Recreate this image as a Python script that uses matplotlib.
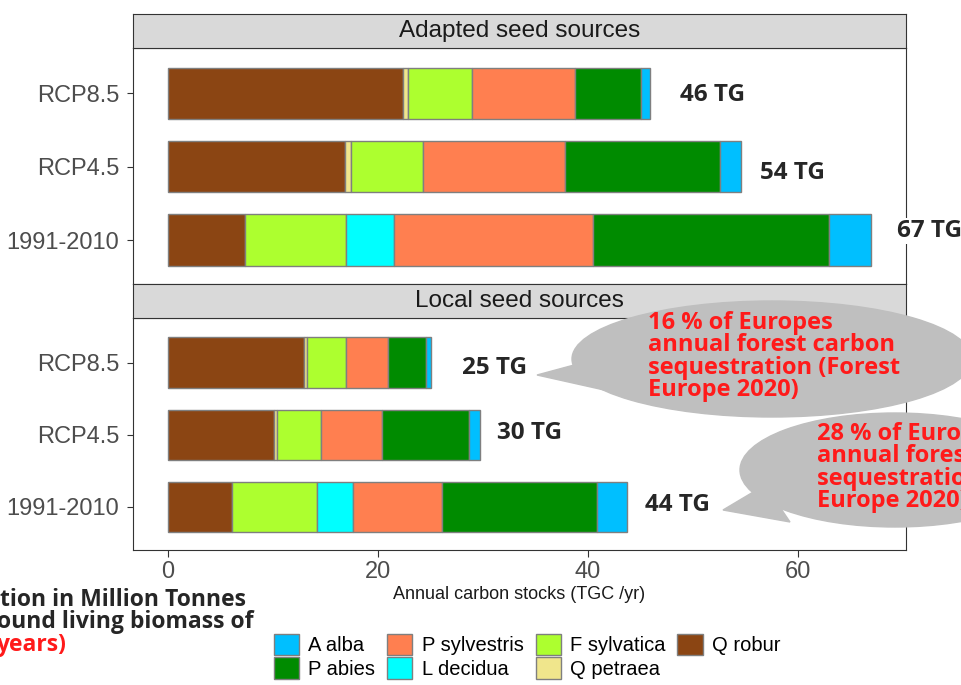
import numpy as np
import matplotlib.pyplot as plt
from matplotlib.patches import Patch, Ellipse, Polygon

# scenarios from bottom to top
scenarios = ["1991-2010", "RCP4.5", "RCP8.5"]
species = ["Q robur", "Q petraea", "F sylvatica", "L decidua", "P sylvestris", "P abies", "A alba"]
colors = ["#8B4513", "#F0E68C", "#ADFF2F", "#00FFFF", "#FF7F50", "#008B00", "#00BFFF"]

# annual carbon stocks (TGC/yr), one list per species, order = scenarios
adapted_q_robur = [7.3, 16.9, 22.4]
adapted_q_petraea = [0.0, 0.5, 0.5]
adapted_f_sylvatica = [9.7, 6.9, 6.1]
adapted_l_decidua = [4.5, 0.0, 0.0]
adapted_p_sylvestris = [19.0, 13.5, 9.8]
adapted_p_abies = [22.5, 14.8, 6.3]
adapted_a_alba = [4.0, 2.0, 0.8]

local_q_robur = [6.1, 10.1, 13.0]
local_q_petraea = [0.0, 0.25, 0.2]
local_f_sylvatica = [8.1, 4.25, 3.8]
local_l_decidua = [3.4, 0.0, 0.0]
local_p_sylvestris = [8.5, 5.8, 4.0]
local_p_abies = [14.8, 8.3, 3.6]
local_a_alba = [2.8, 1.0, 0.5]

adapted_labels = ["67 TG", "54 TG", "46 TG"]
local_labels = ["44 TG", "30 TG", "25 TG"]

legend_order = ["A alba", "P abies", "P sylvestris", "L decidua", "F sylvatica", "Q petraea", "Q robur"]

W, H = 962, 685
fig = plt.figure(figsize=(W / 100, H / 100), dpi=100)


def px_rect(l, t, r, b):
    return [l / W, 1 - b / H, (r - l) / W, (b - t) / H]


def draw_panel(ax, data):
    y = np.arange(len(scenarios)) + 1
    left = np.zeros(len(scenarios))
    for vals, c in zip(data, colors):
        vals = np.array(vals)
        m = vals > 0
        ax.barh(y[m], vals[m], left=left[m], height=0.7, color=c,
                edgecolor="#7f7f7f", linewidth=1)
        left += vals
    ax.set_xlim(-3.33, 70.3)
    ax.set_ylim(0.4, 3.62)
    ax.set_yticks(y)
    ax.set_yticklabels(scenarios, fontsize=17, color="#4d4d4d", family="Liberation Sans")
    ax.tick_params(axis="y", length=4, color="#333333", width=0.8, pad=6)
    for s in ax.spines.values():
        s.set_color("#333333")
        s.set_linewidth(0.8)
    return left


def draw_strip(ax, text):
    ax.set_facecolor("#d9d9d9")
    ax.set_xticks([])
    ax.set_yticks([])
    for s in ax.spines.values():
        s.set_color("#333333")
        s.set_linewidth(0.8)
    ax.text(0.5, 0.5, text, ha="center", va="center", fontsize=17.5,
            color="#1a1a1a", family="Liberation Sans", transform=ax.transAxes)


ax_top = fig.add_axes(px_rect(133, 48, 906, 284))
ax_bot = fig.add_axes(px_rect(133, 318, 906, 550))
draw_strip(fig.add_axes(px_rect(133, 14, 906, 48)), "Adapted seed sources")
draw_strip(fig.add_axes(px_rect(133, 284, 906, 318)), "Local seed sources")

draw_panel(ax_top, [adapted_q_robur, adapted_q_petraea, adapted_f_sylvatica, adapted_l_decidua,
                    adapted_p_sylvestris, adapted_p_abies, adapted_a_alba])
draw_panel(ax_bot, [local_q_robur, local_q_petraea, local_f_sylvatica, local_l_decidua,
                    local_p_sylvestris, local_p_abies, local_a_alba])

ax_top.set_xticks([])
ax_bot.set_xticks([0, 20, 40, 60])
ax_bot.tick_params(axis="x", labelsize=17, labelcolor="#4d4d4d", length=5,
                   color="#333333", width=0.8, pad=3)
for t in ax_bot.get_xticklabels():
    t.set_family("Liberation Sans")
ax_bot.set_xlabel("Annual carbon stocks (TGC /yr)", fontsize=13, color="#1a1a1a",
                  family="Liberation Sans", labelpad=2)

# legend
handles = [Patch(facecolor=colors[species.index(n)], edgecolor="#7f7f7f") for n in legend_order]
leg = fig.legend(handles, legend_order, ncol=4, loc="upper left",
                 bbox_to_anchor=(274 / W, 1 - 634 / H), frameon=False,
                 prop={"family": "Liberation Sans", "size": 14.5},
                 handlelength=1.25, handleheight=1.25, handletextpad=0.45,
                 columnspacing=0.6, labelspacing=0.1, borderpad=0, borderaxespad=0)

# overlay in pixel coordinates for callouts and notes
ov = fig.add_axes([0, 0, 1, 1], zorder=10)
ov.set_xlim(0, W)
ov.set_ylim(H, 0)
ov.axis("off")
ov.patch.set_alpha(0)

bold = dict(family="Open Sans", weight="bold")
tg_pos = [(897, 231), (760, 173), (680, 95), (645, 505), (497, 433), (462, 368)]
for txt, (x, y) in zip(adapted_labels + local_labels, tg_pos):
    ov.text(x, y, txt, ha="left", va="center", fontsize=17.5, color="#262626",
            bbox=dict(facecolor="white", edgecolor="none", pad=1), **bold)

bub = "#bfbfbf"
ov.add_patch(Ellipse((772, 359), 400, 116, color=bub, zorder=1))
ov.add_patch(Polygon([(537, 375), (600, 358), (640, 398)], color=bub, zorder=1))
ov.add_patch(Ellipse((895, 470), 310, 114, color=bub, zorder=1))
ov.add_patch(Polygon([(723, 510), (765, 485), (790, 522)], color=bub, zorder=1))

# va="baseline" on multi-line text anchors the last line
ov.text(648, 396, "16 % of Europes\nannual forest carbon\nsequestration (Forest\nEurope 2020)",
        ha="left", va="baseline", fontsize=17, color="#ff1a1a", linespacing=0.91, zorder=2, **bold)
ov.text(817, 507, "28 % of Europes\nannual forest carbon\nsequestration (Forest\nEurope 2020)",
        ha="left", va="baseline", fontsize=17, color="#ff1a1a", linespacing=0.91, zorder=2, **bold)

ov.text(0, 600, "tion in Million Tonnes", ha="left", va="center", fontsize=16.5, color="#262626", **bold)
ov.text(-3, 622, "ound living biomass of", ha="left", va="center", fontsize=16.5, color="#262626", **bold)
ov.text(-4, 645, "years)", ha="left", va="center", fontsize=16.5, color="#ff1a1a", **bold)

fig.savefig("out.png", dpi=100)
